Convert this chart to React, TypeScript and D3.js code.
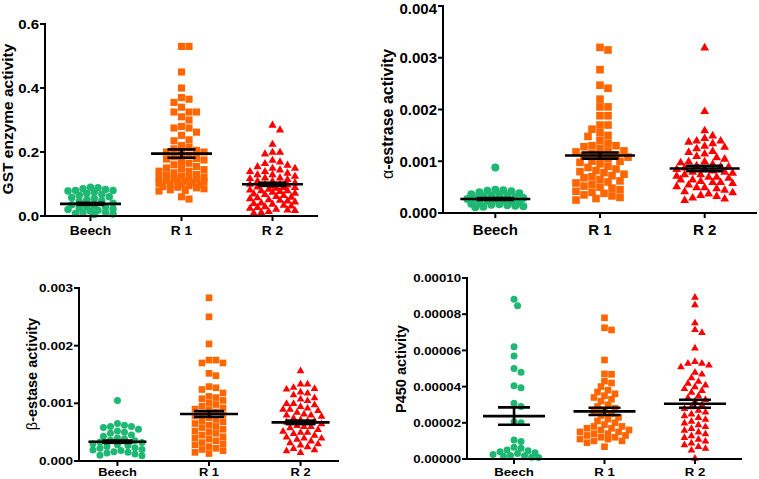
import React from "react";
import * as d3 from "d3";

// ---------- DATA ----------
const categories = ["Beech", "R 1", "R 2"];

// GST enzyme activity
const gstBeech = [0.09,0.088,0.085,0.083,0.08,0.08,0.078,0.075,0.07,0.068,0.065,0.06,0.058,0.055,0.05,0.048,0.045,0.04,0.035,0.032,0.03,0.028,0.025,0.022,0.02,0.018,0.015,0.012,0.01,0.008,0.006,0.005];
const gstR1 = [0.53,0.53,0.45,0.40,0.37,0.365,0.355,0.34,0.325,0.325,0.325,0.31,0.30,0.28,0.275,0.275,0.262,0.252,0.238,0.235,0.22,0.215,0.21,0.205,0.2,0.2,0.195,0.19,0.185,0.18,0.178,0.175,0.17,0.165,0.16,0.155,0.15,0.148,0.145,0.14,0.14,0.135,0.13,0.128,0.125,0.122,0.12,0.12,0.118,0.115,0.112,0.11,0.11,0.108,0.105,0.102,0.1,0.1,0.098,0.095,0.092,0.09,0.088,0.085,0.082,0.08,0.078,0.06,0.053];
const gstR2 = [0.285,0.27,0.225,0.2,0.2,0.195,0.175,0.17,0.165,0.16,0.155,0.15,0.15,0.145,0.14,0.14,0.135,0.13,0.13,0.125,0.12,0.12,0.118,0.115,0.11,0.11,0.105,0.1,0.1,0.1,0.098,0.095,0.092,0.09,0.09,0.088,0.085,0.082,0.08,0.08,0.078,0.075,0.072,0.07,0.068,0.065,0.062,0.06,0.058,0.055,0.052,0.05,0.048,0.045,0.042,0.04,0.038,0.035,0.032,0.03,0.028,0.025,0.022,0.02,0.018,0.015,0.012,0.01];
const gstMean = [0.038, 0.195, 0.099];
const gstSem = [0.003, 0.013, 0.005];
const gstTicks = [0, 0.2, 0.4, 0.6];

// alpha-estrase activity
const aBeech = [0.00088,0.00045,0.00044,0.00043,0.00042,0.0004,0.00038,0.00036,0.00035,0.00034,0.00033,0.00032,0.0003,0.00029,0.00028,0.00027,0.00026,0.00025,0.00024,0.00022,0.0002,0.00019,0.00018,0.00017,0.00016,0.00015,0.00014,0.00013,0.00012,0.00011];
const aR1 = [0.0032,0.00315,0.00277,0.00247,0.00241,0.0022,0.00205,0.00205,0.00188,0.00188,0.0017,0.0017,0.00162,0.00155,0.0015,0.00148,0.0014,0.00135,0.0013,0.0013,0.00128,0.00125,0.0012,0.0012,0.00118,0.00115,0.00112,0.0011,0.0011,0.00108,0.00105,0.001,0.001,0.00098,0.00095,0.0009,0.00088,0.00085,0.00082,0.0008,0.00078,0.00075,0.00072,0.0007,0.00068,0.00065,0.00062,0.0006,0.00058,0.00055,0.00052,0.0005,0.00048,0.00045,0.00042,0.0004,0.00038,0.00035,0.00033,0.0003,0.00028,0.00025];
const aR2 = [0.0032,0.00197,0.0016,0.0015,0.00145,0.0014,0.0014,0.00138,0.00135,0.0013,0.00128,0.00125,0.0012,0.00118,0.00115,0.0011,0.00108,0.00105,0.001,0.001,0.00098,0.00095,0.00092,0.0009,0.0009,0.00088,0.00085,0.00085,0.00082,0.0008,0.0008,0.00078,0.00075,0.00075,0.00072,0.0007,0.0007,0.00068,0.00065,0.00065,0.00062,0.0006,0.0006,0.00058,0.00055,0.00052,0.0005,0.0005,0.00048,0.00045,0.00042,0.0004,0.00038,0.00035,0.00033,0.0003,0.00028,0.00025];
const aMean = [0.00027, 0.00111, 0.00086];
const aSem = [0.00002, 0.00006, 0.00005];
const aTicks = [0, 0.001, 0.002, 0.003, 0.004];

// beta-estase activity
const bBeech = [0.00105,0.00065,0.00062,0.0006,0.0006,0.00058,0.00055,0.00052,0.0005,0.00048,0.00045,0.00043,0.0004,0.00038,0.00036,0.00035,0.00033,0.00032,0.0003,0.00028,0.00027,0.00025,0.00023,0.00022,0.0002,0.00019,0.00018,0.00016,0.00015,0.00014,0.00012,0.0001,0.00009];
const bR1 = [0.00283,0.0025,0.00203,0.00175,0.00175,0.0017,0.0017,0.00152,0.00148,0.00129,0.00127,0.00124,0.00118,0.00112,0.0011,0.00108,0.00105,0.001,0.00098,0.00095,0.00092,0.0009,0.00088,0.00085,0.00082,0.0008,0.00078,0.00075,0.00072,0.0007,0.00068,0.00065,0.00062,0.0006,0.00058,0.00055,0.00052,0.0005,0.00048,0.00045,0.00042,0.0004,0.00038,0.00035,0.00032,0.0003,0.00028,0.00025,0.00022,0.0002,0.00018,0.00015,0.00013];
const bR2 = [0.00157,0.00134,0.00134,0.00128,0.00126,0.00125,0.0012,0.00118,0.00115,0.0011,0.00108,0.00105,0.001,0.001,0.00098,0.00095,0.00092,0.0009,0.0009,0.00088,0.00085,0.00082,0.0008,0.0008,0.00078,0.00075,0.00072,0.0007,0.0007,0.00068,0.00065,0.00062,0.0006,0.0006,0.00058,0.00055,0.00052,0.0005,0.0005,0.00048,0.00045,0.00042,0.0004,0.0004,0.00038,0.00035,0.00032,0.0003,0.00028,0.00025,0.00022,0.0002,0.00018,0.00015];
const bMean = [0.000335, 0.000815, 0.00067];
const bSem = [0.00002, 0.00005, 0.00003];
const bTicks = [0, 0.001, 0.002, 0.003];

// P450 activity
const pBeech = [0.0000882,0.0000847,0.000062,0.0000569,0.00005,0.0000479,0.0000405,0.0000394,0.0000308,0.000029,0.0000206,0.00002,0.0000105,0.0000097,0.0000065,0.000006,0.000005,0.0000045,0.000004,0.0000035,0.000003,0.0000025,0.000002,0.0000018,0.0000015,0.000001,0.0000008];
const pR1 = [0.000078,0.0000725,0.0000713,0.0000547,0.000047,0.0000468,0.000043,0.000042,0.00004,0.000038,0.000037,0.000036,0.000035,0.000034,0.000033,0.000032,0.00003,0.000029,0.000028,0.000027,0.000026,0.000025,0.000024,0.000023,0.000022,0.000021,0.00002,0.000019,0.000018,0.000018,0.000017,0.000017,0.000016,0.000016,0.000015,0.000015,0.000014,0.000014,0.000013,0.000013,0.000012,0.000012,0.000011,0.000011,0.00001,0.00001,0.000009,0.0000068];
const pR2 = [0.0000895,0.0000853,0.0000753,0.0000716,0.00007,0.0000614,0.000054,0.000053,0.000053,0.000052,0.000051,0.000048,0.000047,0.000045,0.000043,0.000042,0.000041,0.00004,0.000039,0.000038,0.000037,0.000035,0.000034,0.000033,0.000032,0.00003,0.000029,0.000028,0.000027,0.000026,0.000025,0.000024,0.000023,0.000022,0.000021,0.00002,0.000019,0.000018,0.000017,0.000016,0.000015,0.000014,0.000013,0.000012,0.000011,0.00001,0.000009,0.000008,0.000007,0.000006,0.000005,0.0000005];
const pMean = [0.0000237, 0.0000263, 0.0000305];
const pSem = [0.0000048, 0.000002, 0.0000022];
const pTicks = [0, 0.00002, 0.00004, 0.00006, 0.00008, 0.0001];

// ---------- STYLE ----------
const colors = ["#1db872", "#ff6600", "#ff0000"];
const shapes = ["circle", "square", "triangle"];
const FONT = "Liberation Sans, Arial, Helvetica, sans-serif";

type Cfg = {
  groups: number[][]; means: number[]; sems: number[]; ticks: number[]; fmt: string;
  label: React.ReactNode; yMax: number;
  axisX: number; yTop: number; yBot: number; xEnd: number; pad: number;
  tickFs: number; tickSx: number; catFs: number; catSx: number; catY: number;
  labelX: number; labelY: number; labelFs: number;
  diam: number; meanW: number; capW: number; maxHalf: number;
};

function swarm(values: number[], y: (v: number) => number, diam: number, maxHalf: number) {
  const pts = values.map((v) => ({ v, y: y(v), x: 0 })).sort((a, b) => b.v - a.v);
  const placed: { x: number; y: number }[] = [];
  const step = diam * 0.5;
  const minD = diam * 0.92;
  for (const p of pts) {
    let bestX = 0, bestScore = -1;
    const offs: number[] = [0];
    for (let k = 1; k * step <= maxHalf; k++) { offs.push(k * step, -k * step); }
    for (const o of offs) {
      let md = Infinity;
      for (const q of placed) {
        const d = Math.hypot(q.x - o, q.y - p.y);
        if (d < md) md = d;
      }
      if (md >= minD) { bestX = o; bestScore = Infinity; break; }
      if (md > bestScore) { bestScore = md; bestX = o; }
    }
    p.x = bestX;
    placed.push({ x: bestX, y: p.y });
  }
  return pts;
}

function Marker({ shape, x, y, d, color }: { shape: string; x: number; y: number; d: number; color: string }) {
  if (shape === "circle") return <circle cx={x} cy={y} r={d / 2} fill={color} />;
  if (shape === "square") {
    const s = d * 0.95;
    return <rect x={x - s / 2} y={y - s / 2} width={s} height={s} fill={color} />;
  }
  const s = d * 1.1;
  const h = s * 0.866;
  return <path d={`M${x},${y - h * 0.6}L${x + s / 2},${y + h * 0.4}L${x - s / 2},${y + h * 0.4}Z`} fill={color} />;
}

function Panel({ c }: { c: Cfg }) {
  const y = d3.scaleLinear().domain([0, c.yMax]).range([c.yBot, c.yTop]);
  const x = d3.scalePoint<string>().domain(categories).range([c.axisX, c.xEnd]).padding(c.pad);
  const fmt = d3.format(c.fmt);
  const tickLen = 5;
  return (
    <g fontFamily={FONT} fontWeight="bold">
      {c.groups.map((vals, gi) => {
        const cx = x(categories[gi])!;
        return swarm(vals, y, c.diam, c.maxHalf).map((p, i) => (
          <Marker key={`${gi}-${i}`} shape={shapes[gi]} x={cx + p.x} y={p.y} d={c.diam} color={colors[gi]} />
        ));
      })}
      {c.means.map((m, gi) => {
        const cx = x(categories[gi])!;
        const hi = y(m + c.sems[gi]);
        const lo = y(m - c.sems[gi]);
        return (
          <g key={`m${gi}`} stroke="#000" strokeWidth={2.6}>
            <line x1={cx - c.meanW / 2} x2={cx + c.meanW / 2} y1={y(m)} y2={y(m)} />
            <line x1={cx} x2={cx} y1={hi} y2={lo} />
            <line x1={cx - c.capW / 2} x2={cx + c.capW / 2} y1={hi} y2={hi} />
            <line x1={cx - c.capW / 2} x2={cx + c.capW / 2} y1={lo} y2={lo} />
          </g>
        );
      })}
      <line x1={c.axisX} x2={c.axisX} y1={c.yTop - 1} y2={c.yBot + 1} stroke="#000" strokeWidth={2} />
      <line x1={c.axisX - 1} x2={c.xEnd} y1={c.yBot} y2={c.yBot} stroke="#000" strokeWidth={2} />
      {c.ticks.map((t) => (
        <g key={`t${t}`}>
          <line x1={c.axisX - tickLen} x2={c.axisX} y1={y(t)} y2={y(t)} stroke="#000" strokeWidth={2} />
          <text
            transform={`translate(${c.axisX - tickLen - 1},${Math.max(y(t) + c.tickFs * 0.36, c.tickFs * 0.93)}) scale(${c.tickSx},1)`}
            textAnchor="end" fontSize={c.tickFs} fill="#000"
          >{fmt(t)}</text>
        </g>
      ))}
      {categories.map((cat) => (
        <g key={cat}>
          <line x1={x(cat)!} x2={x(cat)!} y1={c.yBot} y2={c.yBot + tickLen} stroke="#000" strokeWidth={2} />
          <text
            transform={`translate(${x(cat)!},${c.catY}) scale(${c.catSx},1)`}
            textAnchor="middle" fontSize={c.catFs} fill="#000"
          >{cat}</text>
        </g>
      ))}
      <text transform={`translate(${c.labelX},${c.labelY}) rotate(-90)`} textAnchor="middle" fontSize={c.labelFs} fill="#000">
        {c.label}
      </text>
    </g>
  );
}

const panels: Cfg[] = [
  {
    groups: [gstBeech, gstR1, gstR2], means: gstMean, sems: gstSem, ticks: gstTicks, fmt: ".1f",
    label: "GST enzyme activity", yMax: 0.6,
    axisX: 45, yTop: 24, yBot: 216, xEnd: 318, pad: 0.5,
    tickFs: 12.5, tickSx: 1.2, catFs: 12, catSx: 1.15, catY: 235,
    labelX: 13, labelY: 119, labelFs: 15.5, diam: 7.5, meanW: 61, capW: 28, maxHalf: 26,
  },
  {
    groups: [aBeech, aR1, aR2], means: aMean, sems: aSem, ticks: aTicks, fmt: ".3f",
    label: (<><tspan fontWeight="normal">α</tspan>-estrase activity</>), yMax: 0.004,
    axisX: 443, yTop: 6, yBot: 213, xEnd: 757, pad: 0.5,
    tickFs: 15, tickSx: 1, catFs: 15, catSx: 1, catY: 235,
    labelX: 393, labelY: 114, labelFs: 16, diam: 8, meanW: 70, capW: 37, maxHalf: 30,
  },
  {
    groups: [bBeech, bR1, bR2], means: bMean, sems: bSem, ticks: bTicks, fmt: ".3f",
    label: (<><tspan fontWeight="normal">β</tspan>-estase activity</>), yMax: 0.003,
    axisX: 79, yTop: 288, yBot: 461, xEnd: 339, pad: 0.42,
    tickFs: 11.5, tickSx: 1.18, catFs: 11.5, catSx: 1.12, catY: 476,
    labelX: 37, labelY: 374, labelFs: 14.5, diam: 7, meanW: 58, capW: 30, maxHalf: 26,
  },
  {
    groups: [pBeech, pR1, pR2], means: pMean, sems: pSem, ticks: pTicks, fmt: ".5f",
    label: "P450 activity", yMax: 0.0001,
    axisX: 467, yTop: 278, yBot: 459, xEnd: 742, pad: 0.52,
    tickFs: 11.5, tickSx: 1.15, catFs: 11.5, catSx: 1.15, catY: 476,
    labelX: 406, labelY: 369, labelFs: 14.5, diam: 7, meanW: 62, capW: 32, maxHalf: 26,
  },
];

export default function App() {
  return (
    <svg width={759} height={479} style={{ position: "absolute", left: 0, top: 0, background: "#fff" }}>
      <rect width={759} height={479} fill="#fff" />
      {panels.map((c, i) => <Panel key={i} c={c} />)}
    </svg>
  );
}
